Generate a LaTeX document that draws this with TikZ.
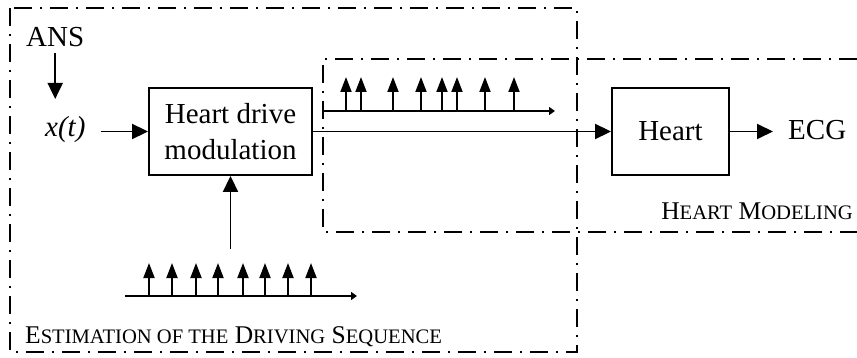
\documentclass[tikz,border=0pt]{standalone}
\usepackage{fontspec}
\setmainfont{Liberation Serif}
\usetikzlibrary{arrows.meta}
% font sizes for the block labels and the small-caps region titles
\newcommand\lblfont{\fontsize{29}{36}\selectfont}
\newcommand\capfont{\fontsize{25.5}{30}\selectfont}
\newcommand\lowcap[1]{{\fontsize{20.6}{24}\selectfont #1}}

\begin{document}
\begin{tikzpicture}[x=1pt,y=-1pt,
  box/.style={draw, line width=1.9pt, inner sep=0pt, font=\lblfont, align=center},
  txt/.style={inner sep=0pt, font=\lblfont},
  arr/.style={line width=1.9pt, -{Triangle[length=16pt,width=15pt]}},
  imp/.style={line width=1.8pt, -{Triangle[length=15pt,width=11pt]}},
  axis/.style={line width=1.8pt, -{Triangle[length=6pt,width=8pt]}},
  region/.style={line width=1.7pt, dash pattern=on 18pt off 8pt on 2pt off 8pt},
  title/.style={inner sep=0pt, font=\capfont},
]
\useasboundingbox (0,0) rectangle (857,358);

% dash-dotted regions
\draw[region] (10,8) rectangle (577,352);
\draw[region] (857,59) -- (323,59) -- (323,232) -- (857,232);

% region titles
\node[title, anchor=base west] (esttitle) at (25,343)
  {E\lowcap{STIMATION OF THE} D\lowcap{RIVING} S\lowcap{EQUENCE}};
\node[title, anchor=base east] (hmtitle) at (853,220)
  {H\lowcap{EART} M\lowcap{ODELING}};

% blocks
\node[box, minimum width=163pt, minimum height=87pt] (hdm) at (230.5,131.5)
  {Heart drive\\modulation};
\node[box, minimum width=117pt, minimum height=87pt] (heart) at (670.5,131.5)
  {Heart};

% inputs and output
\node[txt, anchor=base west] (ans) at (26,47) {ANS};
\node[txt, anchor=base west] (xt) at (45,137) {\itshape x(t)};
\node[txt, anchor=base west] (ecg) at (788,140) {ECG};
\coordinate (ansend) at (ans.south |- 0,99);
\coordinate (seqtop) at (230.5,249);

\draw[arr, shorten <=6pt] (ans.south) -- (ansend);
\draw[arr, shorten <=15pt] (xt.east |- hdm.west) -- (hdm.west);
\draw[arr] (hdm.east) -- (heart.west);
\draw[arr, shorten >=15pt] (heart.east) -- (heart.east -| ecg.west);
\draw[arr] (seqtop) -- (hdm.south);

% regular impulse train
\draw[axis] (125,296) -- (357,296);
\foreach \x in {149,172,196,218,243,265,288,311}
  \draw[imp] (\x,296) -- (\x,263);

% modulated impulse train
\draw[axis] (323,111) -- (555,111);
\foreach \x in {346,361,393,421,442,457,485,514}
  \draw[imp] (\x,111) -- (\x,77);
\end{tikzpicture}
\end{document}
